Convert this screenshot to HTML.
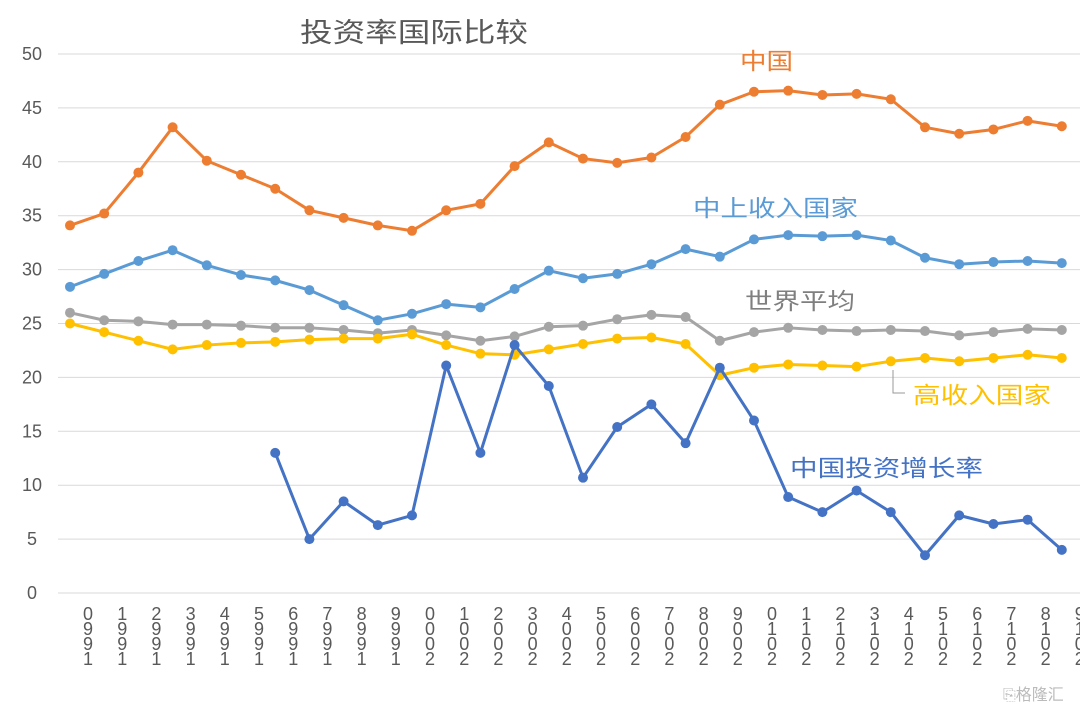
<!DOCTYPE html>
<html><head><meta charset="utf-8">
<style>
html,body{margin:0;padding:0;background:#fff;}
svg{display:block;font-family:"Liberation Sans","Noto Sans CJK SC",sans-serif;}
</style></head>
<body>
<svg id="chart" width="1080" height="709" viewBox="0 0 1080 709">
<text x="300" y="42" font-size="27" fill="#595959" textLength="228" lengthAdjust="spacingAndGlyphs">投资率国际比较</text>
<g id="grid"></g><g id="ylab"></g><g id="xlab"></g><g id="series"></g>
<text x="740" y="69" font-size="23" fill="#ED7D31" textLength="53" lengthAdjust="spacingAndGlyphs">中国</text>
<text x="693" y="216" font-size="23" fill="#5B9BD5" textLength="165" lengthAdjust="spacingAndGlyphs">中上收入国家</text>
<text x="745" y="309" font-size="23" fill="#7f7f7f" textLength="110" lengthAdjust="spacingAndGlyphs">世界平均</text>
<polyline points="893,370 893,393 905,393" fill="none" stroke="#999" stroke-width="1"/>
<text x="913" y="403" font-size="23" fill="#FFC000" textLength="138" lengthAdjust="spacingAndGlyphs">高收入国家</text>
<text x="790" y="476" font-size="23" fill="#4472C4" textLength="193" lengthAdjust="spacingAndGlyphs">中国投资增长率</text>
<text x="1003" y="700" font-size="16" fill="#bbb">⎘格隆汇</text>
</svg>
<script>
const years = [1990,1991,1992,1993,1994,1995,1996,1997,1998,1999,2000,2001,2002,2003,2004,2005,2006,2007,2008,2009,2010,2011,2012,2013,2014,2015,2016,2017,2018,2019];
const yTicks = [0,5,10,15,20,25,30,35,40,45,50];
const china = [34.1,35.2,39.0,43.2,40.1,38.8,37.5,35.5,34.8,34.1,33.6,35.5,36.1,39.6,41.8,40.3,39.9,40.4,42.3,45.3,46.5,46.6,46.2,46.3,45.8,43.2,42.6,43.0,43.8,43.3];
const upperMiddle = [28.4,29.6,30.8,31.8,30.4,29.5,29.0,28.1,26.7,25.3,25.9,26.8,26.5,28.2,29.9,29.2,29.6,30.5,31.9,31.2,32.8,33.2,33.1,33.2,32.7,31.1,30.5,30.7,30.8,30.6];
const world = [26.0,25.3,25.2,24.9,24.9,24.8,24.6,24.6,24.4,24.1,24.4,23.9,23.4,23.8,24.7,24.8,25.4,25.8,25.6,23.4,24.2,24.6,24.4,24.3,24.4,24.3,23.9,24.2,24.5,24.4];
const highIncome = [25.0,24.2,23.4,22.6,23.0,23.2,23.3,23.5,23.6,23.6,24.0,23.0,22.2,22.1,22.6,23.1,23.6,23.7,23.1,20.2,20.9,21.2,21.1,21.0,21.5,21.8,21.5,21.8,22.1,21.8];
const chinaGrowth = [null,null,null,null,null,null,13.0,5.0,8.5,6.3,7.2,21.1,13.0,23.0,19.2,10.7,15.4,17.5,13.9,20.9,16.0,8.9,7.5,9.5,7.5,3.5,7.2,6.4,6.8,4.0];

const NS="http://www.w3.org/2000/svg";
const xs = i => 70 + i*34.2;
const ys = v => 593 - v*10.78;
function mk(tag, attrs, parent){const e=document.createElementNS(NS,tag);for(const k in attrs)e.setAttribute(k,attrs[k]);parent.appendChild(e);return e;}
const grid=document.getElementById('grid'), ylab=document.getElementById('ylab'), xlab=document.getElementById('xlab'), ser=document.getElementById('series');
yTicks.forEach(t=>{
  const l=mk('line',{x1:58,x2:1080,y1:ys(t),y2:ys(t),stroke:'#d9d9d9','stroke-width':1},grid);
  
  
  const tx=mk('text',{x:32,y:ys(t)+6,'font-size':18,fill:'#595959','text-anchor':'middle'},ylab);
  tx.textContent=t;
  
  
});
years.forEach((y,i)=>{
  const g=mk('g',{},xlab);
  
  
  const d=String(y).split('').reverse();
  d.forEach((c,j)=>{
    const t=mk('text',{x:xs(i)+18,y:620+j*15,'font-size':18,fill:'#595959','text-anchor':'middle'},g);
    t.textContent=c;
  });
});
function series(arr,color,name){
  const g=mk('g',{},ser);
  
  
  let pts=[];
  arr.forEach((v,i)=>{if(v!==null)pts.push(xs(i)+','+ys(v));});
  mk('polyline',{points:pts.join(' '),fill:'none',stroke:color,'stroke-width':3,'stroke-linejoin':'round'},g);
  arr.forEach((v,i)=>{if(v===null)return;
    const c=mk('circle',{cx:xs(i),cy:ys(v),r:5,fill:color},g);
    
    
  });
}
series(world,'#A5A5A5','series-world-average');
series(highIncome,'#FFC000','series-high-income');
series(upperMiddle,'#5B9BD5','series-upper-middle-income');
series(china,'#ED7D31','series-china');
series(chinaGrowth,'#4472C4','series-china-investment-growth');
</script>
</body></html>
